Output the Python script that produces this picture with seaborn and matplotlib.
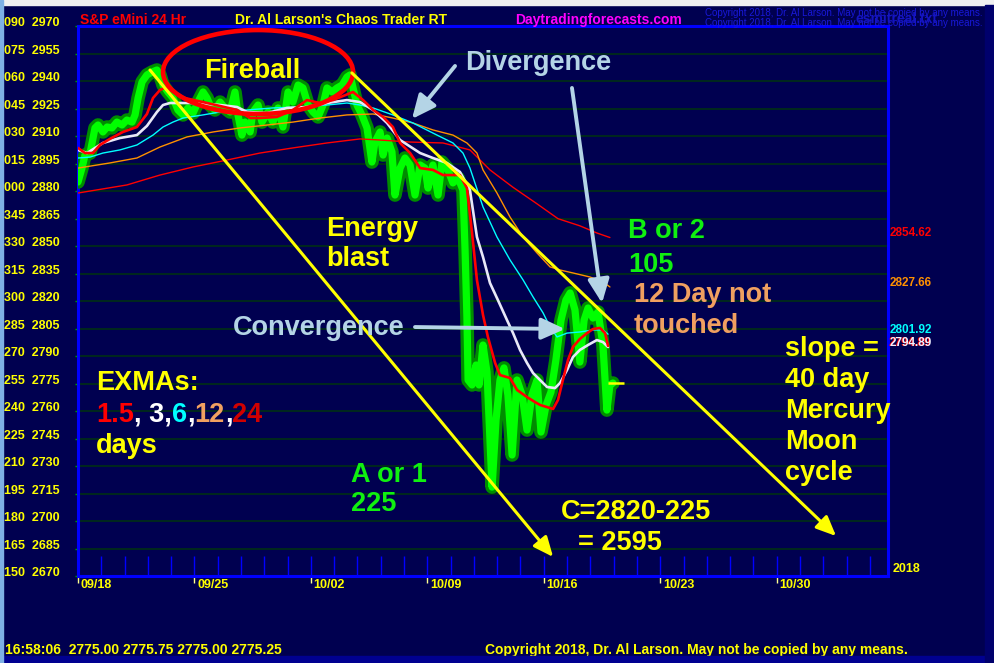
import numpy as np
import pandas as pd
import matplotlib
matplotlib.use('Agg')
import matplotlib.pyplot as plt
import matplotlib.transforms as mtransforms
from matplotlib.patches import Ellipse, Rectangle
from matplotlib import font_manager as fm
import seaborn as sns

# ---------------- data (time in trading days from 09/18, ES price) ----------------
price_t = [0.00,0.17,0.30,0.52,0.73,0.86,1.07,1.25,1.46,1.67,1.89,2.10,2.32,2.45,2.58,2.75,2.96,3.18,3.39,3.52,
           3.65,3.86,4.08,4.29,4.51,4.72,4.94,5.15,5.37,5.54,5.67,5.88,6.10,6.31,6.53,6.74,6.87,7.04,7.17,7.39,
           7.51,7.73,7.90,8.16,8.37,8.59,8.80,9.02,9.23,9.45,9.66,9.88,10.09,10.31,10.52,10.69,10.91,11.12,11.34,11.55,
           11.68,11.81,11.98,12.19,12.41,12.62,12.75,12.97,13.10,13.27,13.48,13.61,13.83,14.04,14.26,14.47,14.69,14.90,15.03,15.24,
           15.46,15.63,15.85,16.10,16.32,16.53,16.62,16.70,16.75,16.92,17.09,17.22,17.39,17.56,17.78,17.95,18.12,18.29,18.46,18.64,
           18.85,19.07,19.28,19.49,19.71,19.88,20.10,20.31,20.52,20.74,20.95,21.13,21.34,21.55,21.73,21.90,22.11,22.33,22.54,22.71,
           22.84,22.97]
price = [2884.9,2892.5,2899.6,2900.7,2914.4,2916.0,2912.2,2914.9,2914.4,2917.6,2916.0,2918.7,2917.6,2921.5,2930.7,2939.5,2943.3,2944.9,2946.0,2943.3,
         2937.8,2934.0,2930.7,2924.2,2921.5,2925.3,2922.5,2928.5,2934.0,2930.7,2926.9,2924.2,2928.5,2925.3,2923.1,2934.0,2921.5,2910.5,2917.6,2912.2,
         2923.1,2926.9,2917.6,2923.1,2917.6,2925.3,2914.9,2934.0,2928.5,2937.8,2936.2,2926.9,2923.1,2920.4,2926.9,2936.2,2934.0,2936.2,2937.8,2942.2,
         2943.3,2936.2,2926.9,2921.5,2914.4,2895.8,2906.7,2912.2,2899.6,2908.9,2901.3,2877.8,2892.5,2898.0,2894.2,2877.8,2894.2,2892.5,2881.6,2894.2,
         2877.8,2895.8,2892.5,2884.4,2887.1,2880.5,2847.8,2811.3,2776.9,2774.2,2785.1,2774.2,2796.0,2781.3,2718.5,2755.1,2776.9,2783.5,2768.7,2736.0,
         2776.9,2768.7,2749.6,2768.7,2776.9,2748.5,2763.3,2770.4,2787.8,2809.6,2820.5,2824.4,2815.1,2786.7,2809.6,2816.2,2810.7,2814.0,2796.0,2760.5,
         2774.2,2775.25]

ema15_t = [0.00,0.30,0.64,0.94,1.37,1.93,2.53,2.96,3.22,3.52,3.82,4.08,4.59,5.54,6.83,7.39,7.81,8.54,9.23,9.83,
           10.39,10.95,11.81,12.24,12.67,13.10,13.52,13.83,14.26,14.69,15.24,15.67,16.40,16.70,16.92,17.13,17.39,17.60,17.91,18.12,
           18.55,18.85,19.28,19.62,19.84,20.40,20.61,20.82,21.04,21.25,21.55,21.86,22.11,22.41,22.63,22.76]
ema15 = [2903.5,2900.7,2900.7,2905.1,2908.4,2912.2,2914.9,2922.0,2930.7,2935.1,2936.7,2934.0,2930.7,2928.0,2924.2,2919.8,2919.8,2920.4,2924.2,2929.6,
         2928.0,2929.6,2934.0,2929.6,2924.2,2920.4,2914.9,2906.2,2900.7,2892.5,2891.5,2888.7,2888.7,2881.6,2857.1,2831.4,2812.4,2800.4,2786.2,2779.6,
         2778.0,2771.5,2767.6,2764.9,2763.3,2761.1,2766.0,2776.9,2787.8,2794.9,2799.3,2802.5,2804.7,2805.3,2802.5,2795.5]

ema3_t = [0.00,0.39,1.07,1.80,2.53,2.96,3.39,3.65,3.95,4.94,6.10,6.83,7.26,8.12,8.97,9.83,10.69,11.55,12.11,12.67,
          13.27,13.83,14.69,15.24,15.84,16.40,16.83,17.13,17.39,17.69,18.03,18.42,18.68,18.98,19.28,19.54,19.84,20.14,20.48,20.70,
          21.00,21.25,21.55,21.90,22.28,22.54,22.76]
ema3 = [2902.4,2900.7,2906.2,2908.9,2910.5,2915.5,2923.1,2926.9,2928.0,2928.0,2926.9,2925.8,2923.1,2922.5,2925.3,2925.8,2928.0,2929.6,2928.5,2924.2,
        2917.1,2907.8,2900.7,2898.0,2895.3,2890.4,2880.5,2854.9,2844.0,2829.8,2820.5,2809.6,2802.5,2793.3,2786.2,2780.7,2776.9,2773.1,2772.5,2775.3,
        2782.4,2789.4,2793.3,2796.0,2798.7,2797.6,2794.9]

ema6_t = [0.00,0.52,1.07,1.80,2.53,3.22,3.65,4.08,4.51,5.37,6.10,7.26,8.37,9.53,10.69,11.55,12.11,12.67,13.52,14.38,
          15.24,16.10,16.53,16.83,17.39,17.99,18.55,19.11,19.54,19.97,20.27,20.57,21.00,21.55,22.11,22.54,22.76]
ema6 = [2898.0,2898.5,2900.7,2902.4,2905.1,2910.5,2914.9,2917.6,2919.8,2921.5,2923.1,2924.2,2925.3,2925.8,2926.9,2928.0,2926.9,2925.3,2921.5,2917.1,
        2911.6,2906.2,2900.7,2892.5,2871.3,2854.9,2842.4,2831.5,2822.2,2813.5,2805.8,2800.4,2802.5,2803.1,2804.2,2804.2,2801.92]

ema12_t = [0.00,1.37,2.53,3.52,4.68,5.80,6.96,8.12,9.23,10.39,11.55,12.67,13.52,14.38,15.24,16.10,16.70,17.13,17.39,17.99,
           18.55,19.11,19.71,20.27,20.70,21.25,21.98,22.54,22.84]
ema12 = [2892.5,2895.3,2898.0,2904.0,2909.5,2912.2,2914.4,2916.0,2917.6,2919.8,2921.5,2922.0,2919.8,2917.1,2913.3,2910.5,2906.2,2900.7,2891.5,2878.9,
         2865.8,2854.9,2846.2,2838.6,2836.9,2835.3,2833.1,2830.4,2827.66]

ema24_t = [0.00,2.10,3.52,4.94,6.40,7.81,9.23,10.69,12.11,12.97,14.26,15.67,16.83,17.69,18.68,19.71,20.61,21.55,22.28,22.84]
ema24 = [2878.9,2883.3,2888.7,2893.1,2896.9,2900.7,2903.5,2906.2,2908.4,2907.8,2906.7,2906.2,2902.4,2891.5,2882.0,2873.0,2864.9,2861.0,2857.1,2854.62]

last_labels = ['2854.62', '2827.66', '2801.92', '2794.89']
last_values = [2854.62, 2827.66, 2801.92, 2794.89]
last_price = 2775.25

y_ticks = list(range(2670, 2971, 15))
y_ticklabels = ['150  2670', '165  2685', '180  2700', '195  2715', '210  2730', '225  2745', '240  2760',
                '255  2775', '270  2790', '285  2805', '300  2820', '315  2835', '330  2850', '345  2865',
                '000  2880', '015  2895', '030  2910', '045  2925', '060  2940', '075  2955', '090  2970']
x_ticks = [0, 5, 10, 15, 20, 25, 30]
x_ticklabels = ['09/18', '09/25', '10/02', '10/09', '10/16', '10/23', '10/30']
day_marks = list(range(0, 35))

assert len(price_t) == len(price)
assert len(ema15_t) == len(ema15)
assert len(ema3_t) == len(ema3)
assert len(ema6_t) == len(ema6)
assert len(ema12_t) == len(ema12)
assert len(ema24_t) == len(ema24)

# ---------------- fonts ----------------
def font_ok(name):
    try:
        fm.findfont(fm.FontProperties(family=name), fallback_to_default=False)
        return True
    except Exception:
        return False

SANS = 'Liberation Sans' if font_ok('Liberation Sans') else 'DejaVu Sans'
NARROW = 'Liberation Sans Narrow' if font_ok('Liberation Sans Narrow') else SANS
HAS_NARROW = NARROW != SANS

sns.set_style('dark')
plt.rcParams['font.family'] = [SANS, 'DejaVu Sans']

# ---------------- colours ----------------
BG = '#000050'
YEL = '#FFFF00'
LBLUE = '#B4D4E6'
GREEN_TXT = '#10F010'
ORANGE_TXT = '#F0A060'

W, H = 994, 663
fig = plt.figure(figsize=(W / 100, H / 100), dpi=100, facecolor=BG)
ax = fig.add_axes([78 / W, 1 - 576 / H, (888 - 78) / W, (576 - 26) / H])
ax.set_facecolor(BG)

# ---------------- series ----------------
df_price = pd.DataFrame({'t': price_t, 'p': price})
sns.lineplot(data=df_price, x='t', y='p', ax=ax, sort=False, estimator=None, color='#008C00', lw=9.8,
             solid_joinstyle='round', solid_capstyle='round', zorder=3)
sns.lineplot(data=df_price, x='t', y='p', ax=ax, sort=False, estimator=None, color='#00FF00', lw=5.2,
             solid_joinstyle='round', solid_capstyle='round', zorder=4)

for tt, vv, col, lw in [(ema24_t, ema24, '#FF0000', 1.0), (ema12_t, ema12, '#FF9000', 1.0),
                        (ema6_t, ema6, '#00FFFF', 1.0), (ema3_t, ema3, '#E8E8F8', 1.9),
                        (ema15_t, ema15, '#FF0000', 1.9)]:
    sns.lineplot(x=tt, y=vv, ax=ax, sort=False, estimator=None, color=col, lw=lw, zorder=5)

ax.hlines(last_price, 22.75, 23.45, color=YEL, lw=1.8, zorder=6)

# day division marks along the bottom
ax.vlines(day_marks, 2670, 2681, color='#0000FF', lw=1, zorder=2)

# ---------------- axes styling ----------------
ax.set_xlim(0, 34.78)
ax.set_ylim(2670, 2970)
ax.set_xlabel('')
ax.set_ylabel('')
ax.grid(False)
for yv in y_ticks:
    ax.axhline(yv, color='#003410', lw=1.1, zorder=1)
for s in ax.spines.values():
    s.set_color('#0000FF')
    s.set_linewidth(2.2)
    s.set_visible(True)

TICK_FS = 10 if HAS_NARROW else 9
ax.set_yticks(y_ticks)
ax.set_yticklabels(y_ticklabels, color=YEL, fontsize=TICK_FS, fontweight='bold', family=NARROW)
ax.tick_params(axis='y', direction='out', length=2.5, width=1, color='#00A000', pad=50.5, left=True)
off_y = mtransforms.ScaledTranslation(0, 3.2 / 72, fig.dpi_scale_trans)
for lab in ax.get_yticklabels():
    lab.set_horizontalalignment('left')
    lab.set_transform(lab.get_transform() + off_y)

ax.set_xticks(x_ticks)
ax.set_xticklabels(x_ticklabels, color=YEL, fontsize=TICK_FS, fontweight='bold', family=NARROW)
ax.tick_params(axis='x', direction='out', length=5, width=1, color='#FFFF90', pad=-2.5, bottom=True)
off_x = mtransforms.ScaledTranslation(2 / 72, 0, fig.dpi_scale_trans)
for lab in ax.get_xticklabels():
    lab.set_horizontalalignment('left')
    lab.set_transform(lab.get_transform() + off_x)

# ---------------- annotation shapes ----------------
ax.add_patch(Ellipse((7.73, 2944.9), 8.16, 45.8, fill=False, ec='#FF0000', lw=3.3, zorder=7))

ystyle = dict(arrowstyle='-|>,head_length=0.5,head_width=0.22', color=YEL, lw=2.2,
              mutation_scale=24, shrinkA=0, shrinkB=0)
ax.annotate('', xy=(20.40, 2680.4), xytext=(3.09, 2946.0), arrowprops=ystyle, zorder=8)
ax.annotate('', xy=(32.55, 2691.8), xytext=(11.76, 2944.4), arrowprops=ystyle, zorder=8)

bstyle = dict(arrowstyle='-|>,head_length=0.55,head_width=0.25', color=LBLUE, lw=2.8,
              mutation_scale=26, shrinkA=0, shrinkB=0)
ax.annotate('', xy=(14.34, 2919.3), xytext=(16.19, 2948.2), arrowprops=bstyle, zorder=8)
ax.annotate('', xy=(22.50, 2818.9), xytext=(21.21, 2936.2), arrowprops=bstyle, zorder=8)
ax.annotate('', xy=(20.91, 2804.7), xytext=(14.47, 2805.8), arrowprops=bstyle, zorder=8)

# right-hand last value labels
lab_colors = ['#FF0000', '#FF9000', '#00FFFF', '#F0F0FF']
tr_r = mtransforms.blended_transform_factory(ax.transAxes, ax.transData)
for i, (txt, val, col) in enumerate(zip(last_labels, last_values, lab_colors)):
    if i == 3:
        ax.text(1.0, val, txt, transform=tr_r + mtransforms.ScaledTranslation(0.5 / 72, 3 / 72, fig.dpi_scale_trans),
                color='#FF0000', fontsize=8.5, fontweight='bold', family=NARROW, va='center', ha='left', clip_on=False)
    ax.text(1.0, val, txt, transform=tr_r + mtransforms.ScaledTranslation(1.5 / 72, 3 / 72, fig.dpi_scale_trans),
            color=col, fontsize=8.5, fontweight='bold', family=NARROW, va='center', ha='left', clip_on=False)

# ---------------- figure level decorations ----------------
def ftext(x, y, s, color, size, weight='bold', family=SANS, ha='left', va='baseline', **kw):
    return fig.text(x / W, 1 - y / H, s, color=color, fontsize=size, fontweight=weight,
                    family=family, ha=ha, va=va, **kw)

fig.patches.append(Rectangle((0, 1 - 5 / H), 1, 5 / H, transform=fig.transFigure, color='#F0F0F0', zorder=10))
fig.patches.append(Rectangle((0, 0), 3 / W, 1, transform=fig.transFigure, color='#7EB0E4', zorder=10))
fig.patches.append(Rectangle((985 / W, 0), 9 / W, 1 - 5 / H, transform=fig.transFigure, color='#00006C', zorder=10))
fig.patches.append(Rectangle((0, 0), 1, 7 / H, transform=fig.transFigure, color='#000090', zorder=9))

ftext(80, 24, 'S&P eMini 24 Hr', '#FF0000', 10)
ftext(235, 24, "Dr. Al Larson's Chaos Trader RT", YEL, 10)
ftext(515, 24, 'Daytradingforecasts.com', '#FF00FF', 10)
ftext(705, 16, 'Copyright 2018, Dr. Al Larson. May not be copied by any means.', '#1818D8', 7, weight='normal')
ftext(705, 26, 'Copyright 2018, Dr. Al Larson. May not be copied by any means.', '#1818D8', 7, weight='normal')
ftext(855, 23, 'esmitreal.txt', '#1414C0', 10)
ftext(893, 572, '2018', YEL, TICK_FS, family=NARROW)

ftext(5, 654, '16:58:06  2775.00 2775.75 2775.00 2775.25', YEL, 10, family=NARROW)
ftext(485, 654, 'Copyright 2018, Dr. Al Larson. May not be copied by any means.', YEL, 10, family=NARROW)

BIG = 19.5
ftext(252, 78, 'Fireball', YEL, BIG, ha='center')
ftext(465, 70, 'Divergence', LBLUE, BIG)
ftext(326, 236, 'Energy', YEL, BIG)
ftext(326, 266, 'blast', YEL, BIG)
ftext(628, 238, 'B or 2', GREEN_TXT, BIG)
ftext(628, 272, '105', GREEN_TXT, BIG)
ftext(634, 302, '12 Day not', ORANGE_TXT, BIG)
ftext(634, 333, 'touched', ORANGE_TXT, BIG)
ftext(233, 335, 'Convergence', LBLUE, BIG)
for i, s in enumerate(['slope =', '40 day', 'Mercury', 'Moon', 'cycle']):
    ftext(785, 356 + 31 * i, s, YEL, BIG)
ftext(96, 390, 'EXMAs:', YEL, BIG)
ftext(96, 453, 'days', YEL, BIG)
ftext(351, 482, 'A or 1', GREEN_TXT, BIG)
ftext(351, 511, '225', GREEN_TXT, BIG)
ftext(561, 519, 'C=2820-225', YEL, BIG)
ftext(578, 550, '= 2595', YEL, BIG)

renderer = fig.canvas.get_renderer()
xpos = 96
for s, c in [('1.5', '#FF0000'), (', 3,', '#FFFFFF'), ('6', '#00FFFF'), (',', '#FFFFFF'),
             ('12', ORANGE_TXT), (',', '#FFFFFF'), ('24', '#D00000')]:
    t = ftext(xpos, 422, s, c, BIG)
    xpos += t.get_window_extent(renderer).width

fig.savefig('out.png', dpi=100, facecolor=BG)
